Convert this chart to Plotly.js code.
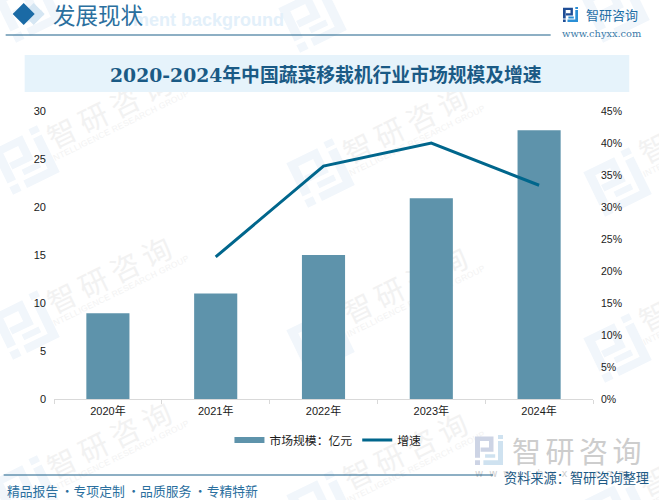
<!DOCTYPE html>
<html><head><meta charset="utf-8">
<script src="https://cdn.plot.ly/plotly-3.0.1.min.js"></script>
<style>html,body{margin:0;padding:0;background:#fff}
#wrap{position:relative;width:659px;height:500px;overflow:hidden}
#bg,#chart{position:absolute;left:0;top:0;width:659px;height:500px}</style></head>
<body><div id="wrap"><svg id="bg" xmlns="http://www.w3.org/2000/svg" width="659" height="500"></svg><div id="chart"></div></div>
<script>
var years = ["2020年","2021年","2022年","2023年","2024年"];
var marketSize = [8.94,11.0,15.0,20.9,28.0];
var growth = [null,22.2,36.4,40.0,33.4];
var leftTicks = [0,5,10,15,20,25,30];
var rightTicks = [0,5,10,15,20,25,30,35,40,45];
var titleText = "2020-2024年中国蔬菜移栽机行业市场规模及增速";
var barName = "市场规模：亿元";
var lineName = "增速";

var W=659,H=500,L=54.3,R=592.8,T=111,B=399;
function px(x){return (x-L)/(R-L);}
function py(y){return (B-y)/(B-T);}
var FONT='"Liberation Sans","Noto Sans CJK SC",sans-serif';
var CJK='"Noto Sans CJK SC",sans-serif';
var SERIF='"DejaVu Serif","Noto Sans CJK SC",serif';
var shapes=[],ann=[];
function rect(x0,y0,x1,y1,c){shapes.push({type:'rect',xref:'paper',yref:'paper',x0:px(x0),x1:px(x1),y0:py(y0),y1:py(y1),fillcolor:c,line:{width:0},layer:'below'});}
function hline(x0,x1,y,c,w){shapes.push({type:'line',xref:'paper',yref:'paper',x0:px(x0),x1:px(x1),y0:py(y),y1:py(y),line:{color:c,width:w},layer:'below'});}
function text(x,y,s,size,color,o){o=o||{};ann.push({xref:'paper',yref:'paper',x:px(x),y:py(y),text:s,showarrow:false,borderpad:0,xanchor:o.anchor||'left',yanchor:'middle',font:{size:size,color:color,family:o.family||FONT,weight:o.weight||400}});}
function poly(pts,c){var d=pts.map(function(p,i){return (i?'L':'M')+px(p[0])+','+py(p[1]);}).join(' ')+' Z';shapes.push({type:'path',xref:'paper',yref:'paper',path:d,fillcolor:c,line:{width:0},layer:'below'});}

// logo outline in a unit box
var logoA=[[[0,.05],[.66,.05],[.66,.56],[.2,.56],[.2,.42],[.5,.42],[.5,.2],[.18,.2],[.18,.76],[0,.76]],[[0,.84],[.18,.84],[.18,1],[0,1]]];
var logoB=[[[.82,.2],[1,.2],[1,1],[.3,1],[.3,.84],[.82,.84]],[[.82,0],[1,0],[1,.13],[.82,.13]],[[.36,.64],[.72,.64],[.72,.76],[.36,.76]]];
function logoD(list,x,y,w,h){return list.map(function(poly){return poly.map(function(p,i){return (i?'L':'M')+(x+p[0]*w).toFixed(1)+' '+(y+p[1]*h).toFixed(1);}).join(' ')+'Z';}).join(' ');}

// background watermark layer, behind the transparent chart
var bg='';
var wmText=[[111,107],[111,272],[111,437],[407,122],[407,282],[407,448],[703,122],[703,290],[703,455]];
wmText.forEach(function(m){
  bg+='<text x="'+m[0]+'" y="'+m[1]+'" transform="rotate(-26 '+m[0]+' '+m[1]+')" text-anchor="middle" dominant-baseline="central" font-family=\'"Noto Sans CJK SC"\' font-size="29" letter-spacing="6" fill="#f2f2f2">智研咨询</text>';
  var ex=m[0]+9,ey=m[1]+19;
  bg+='<text x="'+ex+'" y="'+ey+'" transform="rotate(-26 '+ex+' '+ey+')" text-anchor="middle" dominant-baseline="central" font-family="Liberation Sans" font-size="8.5" letter-spacing="0.3" fill="#f3f3f3">INTELLIGENCE RESEARCH GROUP</text>';
});
var wmLogo=[[25,160],[25,325],[25,490],[320,173],[320,340],[320,505],[617,182],[617,348],[617,510],[28,8],[312,18],[615,8]];
wmLogo.forEach(function(m){
  var d=logoD(logoA,m[0]-26,m[1]-26,52,52)+' '+logoD(logoB,m[0]-26,m[1]-26,52,52);
  bg+='<path d="'+d+'" transform="rotate(-26 '+m[0]+' '+m[1]+')" fill="#f1f6fb"/>';
});
// lower-right brand mark
bg+='<path d="'+logoD(logoA,475,435,28,30)+'" fill="#cdd4e5"/><path d="'+logoD(logoB,475,435,28,30)+'" fill="#cfe2f0"/>';
bg+='<text x="512" y="450" dominant-baseline="central" font-family=\'"Noto Sans CJK SC"\' font-size="29" letter-spacing="4.5" fill="#cdcdcd">智研咨询</text>';
bg+='<text x="475" y="473" dominant-baseline="central" font-family="DejaVu Sans" font-size="10" letter-spacing="6" fill="#cfcfcf">www.chyxx.com</text>';
// top-right brand mark
bg+='<path d="'+logoD(logoA,563,7,15,15)+'" fill="#1f4e96"/><path d="'+logoD(logoB,563,7,15,15)+'" fill="#2a8fd6"/>';
document.getElementById('bg').innerHTML=bg;

// header
poly([[23,14],[34,3],[45,14],[34,25]],"#d5e6f3");
poly([[13,14],[24,3],[35,14],[24,25]],"#1a6aa5");
text(285,20,"ment background",18,"#e3f0fa",{weight:700,anchor:'right'});
text(52,14,"发展现状",22.5,"#2a6f9e",{family:CJK});
hline(6,550.5,35,"#1d6189",1.2);
rect(25,55,629,92,"#e6f3fb");
text(326,75,titleText,18.8,"#1a5a85",{anchor:'center',family:SERIF,weight:700});
text(585,14,"智研咨询",13,"#1f6ea5",{family:CJK});
text(561,33.5,"www.chyxx.com",9.8,"#3a7aa8",{family:'"DejaVu Serif",serif'});
// footer
hline(4,493,475,"#1d6189",1.2);
text(6,490,"精品报告\u2009·专项定制\u2009·品质服务\u2009·专精特新",12.8,"#2a6f9e",{family:CJK});
text(503,477,"资料来源：智研咨询整理",13.2,"#1d5a85",{family:CJK});

var data=[
 {type:'bar',x:years,y:marketSize,name:barName,marker:{color:'#5e93ab'},width:0.4,yaxis:'y',showlegend:false},
 {type:'scatter',mode:'lines',x:[years[0]],y:[null],name:barName,line:{color:'#5e93ab',width:6},yaxis:'y',showlegend:true},
 {type:'scatter',mode:'lines',x:years,y:growth,name:lineName,line:{color:'#00668c',width:3},yaxis:'y2',connectgaps:false}
];
var layout={
 width:W,height:H,autosize:false,paper_bgcolor:'rgba(0,0,0,0)',plot_bgcolor:'rgba(0,0,0,0)',
 margin:{l:L,r:W-R,t:T,b:H-B,pad:0},
 font:{family:FONT,size:11,color:'#1a1a1a'},
 bargap:0.6,
 xaxis:{type:'category',tickmode:'array',tickvals:years,ticktext:years,tickson:'boundaries',showgrid:false,zeroline:false,showline:true,linecolor:'#d9d9d9',linewidth:1,ticks:'outside',ticklen:4,tickcolor:'#d9d9d9',tickwidth:1,ticklabelstandoff:2,tickfont:{size:11,color:'#1a1a1a'},range:[-0.5,4.5]},
 yaxis:{range:[0,30],tickmode:'array',tickvals:leftTicks,showgrid:false,zeroline:false,showline:false,ticks:'',ticklabelstandoff:7,tickfont:{size:11,color:'#1a1a1a'},automargin:false},
 yaxis2:{overlaying:'y',side:'right',range:[0,45],tickmode:'array',tickvals:rightTicks,ticktext:rightTicks.map(function(v){return v+'%';}),showgrid:false,zeroline:false,showline:false,ticks:'',ticklabelstandoff:7,tickfont:{size:10.5,color:'#1a1a1a'},automargin:false},
 legend:{orientation:'h',x:px(328),xanchor:'center',y:py(440),yanchor:'middle',font:{size:11.8,color:'#1a1a1a'},bgcolor:'rgba(0,0,0,0)',traceorder:'normal',itemwidth:30},
 showlegend:true,shapes:shapes,annotations:ann
};
Plotly.newPlot('chart',data,layout,{displayModeBar:false,staticPlot:true});
</script></body></html>
